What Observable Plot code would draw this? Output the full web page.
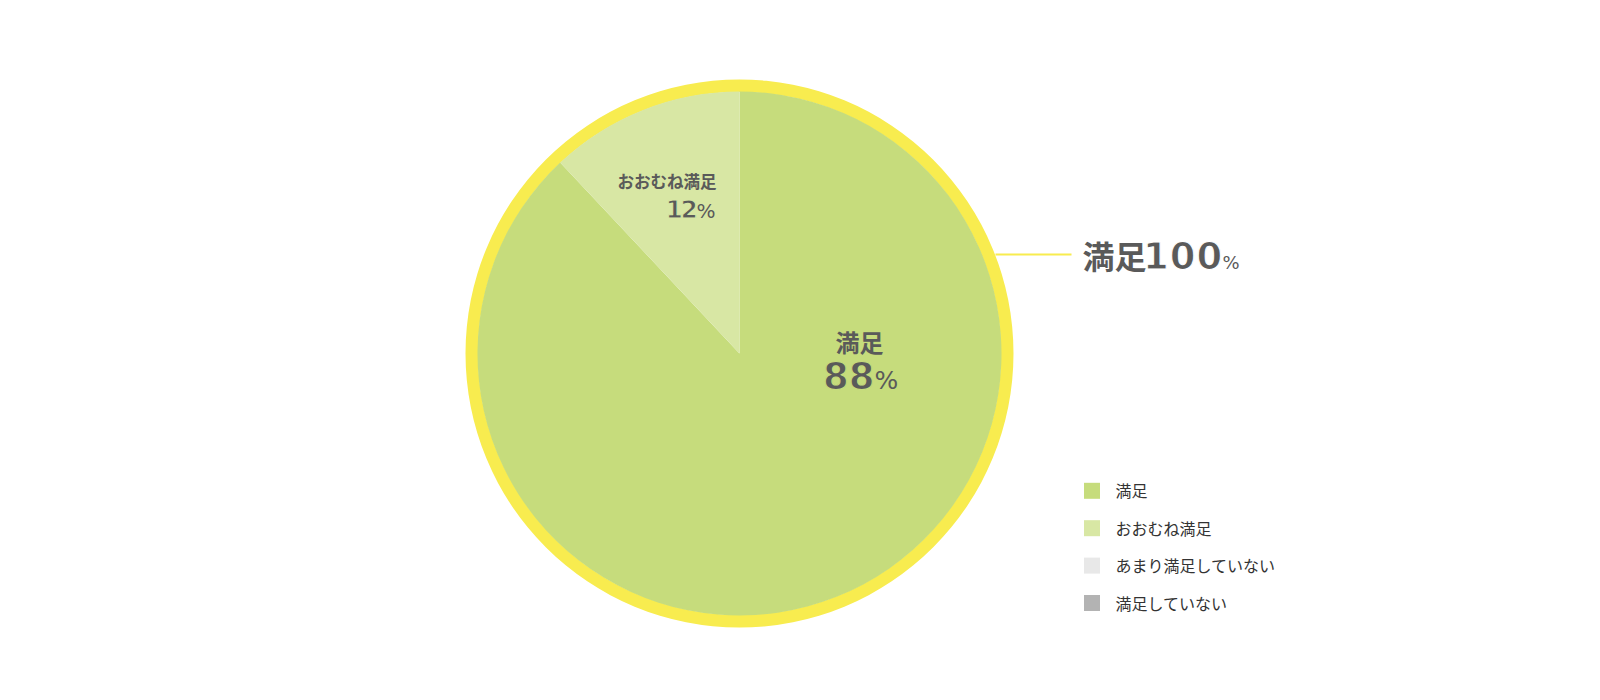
<!DOCTYPE html>
<html>
<head>
<meta charset="utf-8">
<script src="https://cdn.jsdelivr.net/npm/d3@7"></script>
<script src="https://cdn.jsdelivr.net/npm/@observablehq/plot@0.6"></script>
<style>
  html, body { margin: 0; padding: 0; background: #ffffff; overflow: hidden; }
  #chart { width: 1600px; height: 700px; }
</style>
</head>
<body>
<div id="chart"></div>
<script>
// ---- data ----
const categories = ["満足", "おおむね満足", "あまり満足していない", "満足していない"];
const values = [88, 12, 0, 0];
const colors = ["#c6dc7c", "#d8e7a4", "#e8e8e8", "#b3b3b3"];
const totalName = "満足";
const totalValue = 100;
const unit = "%";

// ---- layout / style constants ----
const W = 1600, H = 700;
const CX = 739.5, CY = 353.5, R_IN = 262, R_OUT = 274;
const RING = "#f8ec4f";
const TEXT = "#5a5a5a";
const BG = "#ffffff";
const CJK = "'Noto Sans CJK JP', 'Noto Sans', sans-serif";
const NUM = "'DejaVu Sans', sans-serif";

const rows = categories.map((c, i) => ({category: c, value: values[i], color: colors[i]}));

// positions of slice labels (by slice order, only non-zero slices labelled)
const sliceLabelLayout = [
  {nx: 859, ny: 351, anchor: "middle", nSize: 24, vx: 822.5, vy: 388.5, vSize: 37, ls: 0, px: 874, pSize: 25},
  {nx: 716, ny: 187, anchor: "end", nSize: 16.5, vx: 665, vy: 217.3, vSize: 25, ls: -2.5, px: 696, pSize: 20}
];
const totalLayout = {nx: 1082, ny: 268, anchor: "start", nSize: 32, vx: 1142.5, vy: 268.6, vSize: 37, ls: 1, px: 1222, pSize: 18};

// pie drawn through the plot's scales
function pieMark(index, scales) {
  const g = d3.create("svg:g");
  const cx = scales.x(CX), cy = scales.y(CY);
  const root = g.append("g").attr("transform", `translate(${cx},${cy})`);
  root.append("path")
    .attr("d", d3.arc()({innerRadius: R_IN - 0.5, outerRadius: R_OUT, startAngle: 0, endAngle: 2 * Math.PI}))
    .attr("fill", RING);
  const arcs = d3.pie().value(d => d.value).sort(null).startAngle(0)(rows).filter(a => a.data.value > 0);
  root.selectAll("path.slice")
    .data(arcs)
    .join("path")
    .attr("class", "slice")
    .attr("d", d3.arc().innerRadius(0).outerRadius(R_IN))
    .attr("fill", d => scales.color(d.data.category));
  return g.node();
}

function textMark(str, x, y, opts, ls) {
  const o = {x: () => x, y: () => y, text: d => d, lineAnchor: "bottom", fill: TEXT, ...opts};
  if (ls != null && ls !== 0) {
    o.render = (i, s, v, d, c, next) => {
      const g = next(i, s, v, d, c);
      d3.select(g).selectAll("text").attr("letter-spacing", ls + "px");
      return g;
    };
  }
  return Plot.text([str], o);
}

// bold digits slightly thinned with a stroke in the colour underneath
function numOpts(size, under) {
  return {textAnchor: "start", fontSize: size, fontWeight: 700, fontFamily: NUM,
          stroke: under, strokeWidth: 1.1, paintOrder: "fill"};
}

const labelMarks = [];
let li = 0;
rows.forEach((r) => {
  if (r.value <= 0) return;
  const L = sliceLabelLayout[li++];
  labelMarks.push(textMark(r.category, L.nx, L.ny, {textAnchor: L.anchor, fontSize: L.nSize, fontWeight: 700, fontFamily: CJK}));
  labelMarks.push(textMark(String(r.value), L.vx, L.vy, numOpts(L.vSize, r.color), L.ls));
  labelMarks.push(textMark(unit, L.px, L.vy, {textAnchor: "start", fontSize: L.pSize, fontFamily: NUM}));
});
// total label
labelMarks.push(textMark(totalName, totalLayout.nx, totalLayout.ny, {textAnchor: "start", fontSize: totalLayout.nSize, fontWeight: 700, fontFamily: CJK}));
labelMarks.push(textMark(String(totalValue), totalLayout.vx, totalLayout.vy, numOpts(totalLayout.vSize, BG), totalLayout.ls));
labelMarks.push(textMark(unit, totalLayout.px, totalLayout.vy, {textAnchor: "start", fontSize: totalLayout.pSize, fontFamily: NUM}));

// legend
const LEG_X = 1084, LEG_SIZE = 16, LEG_Y0 = 490.8, LEG_STEP = 37.4;
const legendRows = categories.map((c, i) => ({category: c, y: LEG_Y0 + i * LEG_STEP}));

const chart = Plot.plot({
  width: W,
  height: H,
  margin: 0,
  x: {domain: [0, W], range: [0, W], axis: null},
  y: {domain: [0, H], range: [0, H], axis: null},
  color: {domain: categories, range: colors},
  style: {background: BG, fontFamily: CJK},
  marks: [
    pieMark,
    Plot.link([{y: 254}], {x1: () => 995, x2: () => 1071, y1: "y", y2: "y", stroke: RING, strokeWidth: 2.2}),
    ...labelMarks,
    Plot.rect(legendRows, {
      x1: () => LEG_X, x2: () => LEG_X + LEG_SIZE,
      y1: d => d.y - LEG_SIZE / 2, y2: d => d.y + LEG_SIZE / 2,
      fill: "category"
    }),
    Plot.text(legendRows, {
      x: () => LEG_X + 31, y: "y", text: "category", textAnchor: "start", lineAnchor: "middle",
      dy: 1, fontSize: 16, fill: "#333333", fontFamily: CJK
    })
  ]
});
document.getElementById("chart").appendChild(chart);
</script>
</body>
</html>
